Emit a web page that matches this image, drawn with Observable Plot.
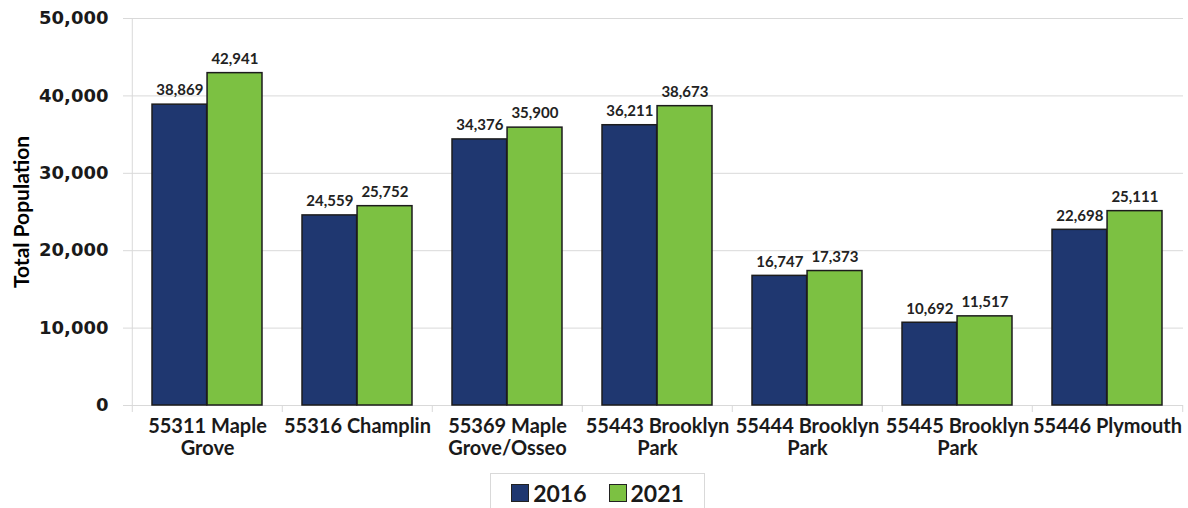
<!DOCTYPE html>
<html>
<head>
<meta charset="utf-8">
<script src="https://cdn.jsdelivr.net/npm/d3@7"></script>
<script src="https://cdn.jsdelivr.net/npm/@observablehq/plot@0.6"></script>
<style>
  html, body { margin: 0; padding: 0; background: #fff; }
  #wrap { position: relative; width: 1188px; height: 508px; overflow: hidden; font-family: Lato, "DejaVu Sans", sans-serif; }
  #legend { position: absolute; left: 490px; top: 473px; width: 215px; height: 44px; border: 1px solid #d9d9d9; box-sizing: border-box;
            display: flex; align-items: center; justify-content: center; gap: 22px; font-weight: bold; font-size: 23px; color: #1a1a1a; padding-bottom: 4px; }
  #legend .item { display: flex; align-items: center; gap: 4px; }
  #legend .sw { width: 18px; height: 18px; border: 1px solid #222; box-sizing: border-box; }
</style>
</head>
<body>
<div id="wrap">
  <div id="chart"></div>
  <div id="legend"></div>
</div>
<script>
// ---- data ----
const zips = ["55311", "55316", "55369", "55443", "55444", "55445", "55446"];
const tickLabels = ["55311 Maple\nGrove", "55316 Champlin", "55369 Maple\nGrove/Osseo", "55443 Brooklyn\nPark", "55444 Brooklyn\nPark", "55445 Brooklyn\nPark", "55446 Plymouth"];
const years = ["2016", "2021"];
const values2016 = [38869, 24559, 34376, 36211, 16747, 10692, 22698];
const values2021 = [42941, 25752, 35900, 38673, 17373, 11517, 25111];
const yTicks = [0, 10000, 20000, 30000, 40000, 50000];
const yLabel = "Total Population";
const colors = ["#1f3770", "#7cc142"];

// ---- layout ----
const W = 1188, H = 468;
const mL = 130, mR = 5, mT = 18, mB = 63;
const step = (W - mL - mR) / zips.length;
const outer = step * 0.133;
const barW = step * 0.366;

const d16 = zips.map((z, i) => ({zip: z, year: years[0], value: values2016[i]}));
const d21 = zips.map((z, i) => ({zip: z, year: years[1], value: values2021[i]}));
const fmt = d3.format(",");
const gridColor = "#d9d9d9";
const tickLen = 7 / (H - mT - mB) * 50000;

const chart = Plot.plot({
  width: W, height: H,
  marginLeft: mL, marginRight: mR, marginTop: mT, marginBottom: mB,
  style: {fontFamily: "Lato, 'DejaVu Sans', sans-serif", background: "#fff", color: "#1a1a1a"},
  x: {type: "band", domain: zips, padding: 0, axis: null},
  y: {domain: [0, 50000], axis: null},
  marks: [
    Plot.gridY(yTicks, {stroke: gridColor, strokeOpacity: 1}),
    Plot.axisY(yTicks, {tickSize: 7, tickPadding: 15, stroke: gridColor, fill: "#1a1a1a", tickFormat: d => fmt(d),
      fontSize: 18, fontWeight: "bold", fontFamily: "DejaVu Sans", label: null}),
    Plot.ruleX([zips[0]], {x: d => d, dx: -step / 2, y1: 0, y2: 50000, stroke: gridColor}),
    Plot.ruleX(zips, {x: d => d, dx: -step / 2, y1: 0, y2: -tickLen, stroke: gridColor}),
    Plot.ruleX([zips[zips.length - 1]], {x: d => d, dx: step / 2, y1: 0, y2: -tickLen, stroke: gridColor}),
    Plot.barY(d16, {x: "zip", y: "value", fill: colors[0], stroke: "#1c1c1c", strokeWidth: 1.5,
      insetLeft: outer, insetRight: step - outer - barW}),
    Plot.barY(d21, {x: "zip", y: "value", fill: colors[1], stroke: "#1c1c1c", strokeWidth: 1.5,
      insetLeft: outer + barW, insetRight: outer}),
    Plot.text(d16, {x: "zip", y: "value", text: d => fmt(d.value), dx: outer + barW / 2 - step / 2, dy: -14,
      fontSize: 15, fontWeight: "bold", fill: "#222"}),
    Plot.text(d21, {x: "zip", y: "value", text: d => fmt(d.value), dx: outer + barW * 1.5 - step / 2, dy: -14,
      fontSize: 15, fontWeight: "bold", fill: "#222"}),
    Plot.text(zips, {x: d => d, text: (d, i) => tickLabels[i], frameAnchor: "bottom", lineAnchor: "top", dy: 12,
      lineHeight: 1.1, fontSize: 20, fontWeight: "bold", fill: "#1a1a1a"}),
    Plot.text([yLabel], {frameAnchor: "left", textAnchor: "middle", text: d => d, rotate: -90, dx: -108, fontSize: 21, fontWeight: "bold", fill: "#000"})
  ]
});
document.getElementById("chart").appendChild(chart);

const legend = document.getElementById("legend");
years.forEach((y, i) => {
  const item = document.createElement("div");
  item.className = "item";
  const sw = document.createElement("div");
  sw.className = "sw";
  sw.style.background = colors[i];
  const t = document.createElement("span");
  t.textContent = y;
  item.appendChild(sw); item.appendChild(t);
  legend.appendChild(item);
});
</script>
</body>
</html>
